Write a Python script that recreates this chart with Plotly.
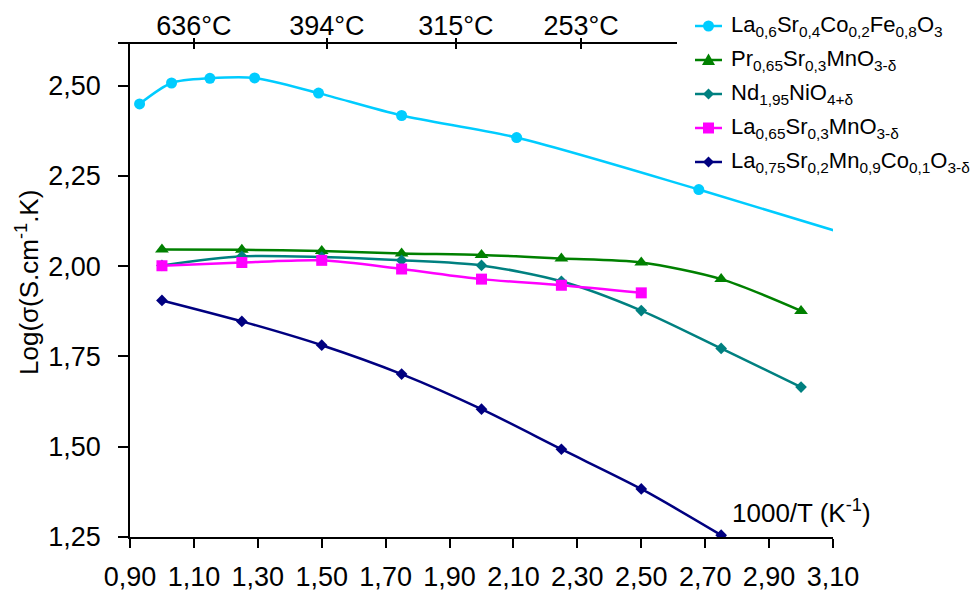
import plotly.graph_objects as go

# ---------------- data ----------------
x_lscf = [0.93, 1.03, 1.15, 1.29, 1.49, 1.75, 2.11, 2.68, 3.36]
y_lscf = [2.449, 2.507, 2.520, 2.521, 2.479, 2.417, 2.356, 2.212, 2.03]

x_std = [1.00, 1.25, 1.50, 1.75, 2.00, 2.25, 2.50, 2.75, 3.00]
y_psm = [2.046, 2.045, 2.042, 2.035, 2.031, 2.021, 2.010, 1.964, 1.876]
y_nno = [2.002, 2.027, 2.025, 2.016, 2.002, 1.958, 1.877, 1.772, 1.665]
x_lsm = [1.00, 1.25, 1.50, 1.75, 2.00, 2.25, 2.50]
y_lsm = [2.001, 2.010, 2.016, 1.992, 1.964, 1.947, 1.926]
y_lsmc = [1.905, 1.847, 1.781, 1.701, 1.604, 1.493, 1.383, 1.255, 1.12]

names = [
    "La<sub>0,6</sub>Sr<sub>0,4</sub>Co<sub>0,2</sub>Fe<sub>0,8</sub>O<sub>3</sub>",
    "Pr<sub>0,65</sub>Sr<sub>0,3</sub>MnO<sub>3-δ</sub>",
    "Nd<sub>1,95</sub>NiO<sub>4+δ</sub>",
    "La<sub>0,65</sub>Sr<sub>0,3</sub>MnO<sub>3-δ</sub>",
    "La<sub>0,75</sub>Sr<sub>0,2</sub>Mn<sub>0,9</sub>Co<sub>0,1</sub>O<sub>3-δ</sub>",
]
colors = ["#00CCFF", "#008000", "#008080", "#FF00FF", "#000080"]
symbols = ["circle", "triangle-up", "diamond", "square", "diamond"]

x_ticks = [0.90, 1.10, 1.30, 1.50, 1.70, 1.90, 2.10, 2.30, 2.50, 2.70, 2.90, 3.10]
y_ticks = [1.25, 1.50, 1.75, 2.00, 2.25, 2.50]
top_tick_vals = [1.10, 1.516, 1.92, 2.312]
top_tick_text = ["636°C", "394°C", "315°C", "253°C"]

# ---------------- layout numbers ----------------
W, H = 974, 591
ml, mr, mt, mb = 118, 141, 44, 54
plot_w = W - ml - mr
plot_h = H - mt - mb
x_range = [0.90, 3.10]
y_range = [1.25, 2.615]
d0 = 12 / plot_w
px_per_unit = (1 - d0) * plot_w / (x_range[1] - x_range[0])
top_end_px = 677 - ml
x2_dom = [0, top_end_px / plot_w]
x2_range = [x_range[0] - 12 / px_per_unit, x_range[0] + (top_end_px - 12) / px_per_unit]

FONT = "Liberation Sans, Arial, sans-serif"


def px_x(px):
    return (px - ml) / plot_w


def px_y(py):
    return (H - mb - py) / plot_h


fig = go.Figure()

series = [
    (x_lscf, y_lscf, 11),
    (x_std, y_psm, 12),
    (x_std, y_nno, 9),
    (x_lsm, y_lsm, 11),
    (x_std, y_lsmc, 9),
]
for i, (xs, ys, sz) in enumerate(series):
    fig.add_trace(go.Scatter(
        x=xs, y=ys, name=names[i], mode="lines+markers",
        line=dict(color=colors[i], width=2.5, shape="spline", smoothing=0.8),
        marker=dict(color=colors[i], symbol=symbols[i], size=sz, line=dict(width=0)),
        xaxis="x", yaxis="y", showlegend=False,
    ))

# invisible traces so that the top temperature axis gets drawn
for ax in ("x2", "x4"):
    fig.add_trace(go.Scatter(
        x=top_tick_vals, y=[None] * len(top_tick_vals), xaxis=ax, yaxis="y",
        mode="markers", showlegend=False, hoverinfo="skip",
    ))

# ---------------- legend (drawn by hand so it does not squeeze the plot) ----------------
leg_x0, leg_x1, leg_text_x = 695, 722, 729
leg_y0, leg_dy = 26, 34
marker_paths = {
    "triangle-up": "M -6.5,-5 L 6.5,-5 L 0,6.5 Z",
    "diamond": "M 0,5.5 L 5.5,0 L 0,-5.5 L -5.5,0 Z",
}
shapes = []
annotations = []
for i, nm in enumerate(names):
    cy = leg_y0 + i * leg_dy
    yp = px_y(cy)
    shapes.append(dict(type="line", xref="paper", yref="paper",
                       x0=px_x(leg_x0), x1=px_x(leg_x1), y0=yp, y1=yp,
                       line=dict(color=colors[i], width=2.5)))
    xc = px_x((leg_x0 + leg_x1) / 2)
    common = dict(xref="paper", yref="paper", xsizemode="pixel", ysizemode="pixel",
                  xanchor=xc, yanchor=yp, fillcolor=colors[i], line=dict(width=0))
    sym = symbols[i]
    if sym == "circle":
        shapes.append(dict(type="circle", x0=-5.5, x1=5.5, y0=-5.5, y1=5.5, **common))
    elif sym == "square":
        shapes.append(dict(type="rect", x0=-5.5, x1=5.5, y0=-5.5, y1=5.5, **common))
    else:
        shapes.append(dict(type="path", path=marker_paths[sym], **common))
    annotations.append(dict(text=nm, xref="paper", yref="paper", x=px_x(leg_text_x), y=yp,
                            xanchor="left", yanchor="middle", showarrow=False,
                            font=dict(family=FONT, size=22, color="black")))

annotations += [
    dict(text="Log(σ(S.cm<sup>-1</sup>.K)", xref="paper", yref="paper",
         x=px_x(27), y=px_y(283), textangle=-90, showarrow=False,
         xanchor="center", yanchor="middle", font=dict(family=FONT, size=26)),
    dict(text="1000/T (K<sup>-1</sup>)", xref="x", yref="y",
         x=3.0, y=1.32, showarrow=False, xanchor="center", yanchor="middle",
         font=dict(family=FONT, size=26)),
]

axis_font = dict(family=FONT, size=27, color="black")

fig.update_layout(
    width=W, height=H,
    margin=dict(l=ml, r=mr, t=mt, b=mb, pad=0),
    paper_bgcolor="white",
    plot_bgcolor="rgba(0,0,0,0)",
    separators=",.",
    font=dict(family=FONT, size=26, color="black"),
    showlegend=False,
    xaxis=dict(
        domain=[d0, 1], range=x_range, tickvals=x_ticks, tickformat=".2f",
        showline=True, linecolor="black", linewidth=1.5,
        ticks="outside", ticklen=9, tickcolor="black", tickwidth=1.5,
        tickfont=axis_font, showgrid=False, zeroline=False,
        anchor="y", ticklabelstandoff=6, automargin=False, tickangle=0,
    ),
    yaxis=dict(
        domain=[0, 1], range=y_range, tickvals=y_ticks, tickformat=".2f",
        showline=True, linecolor="black", linewidth=1.5,
        ticks="outside", ticklen=10, tickcolor="black", tickwidth=1.5,
        tickfont=axis_font, showgrid=False, zeroline=False,
        anchor="x", ticklabelstandoff=12, automargin=False,
    ),
    yaxis3=dict(
        range=y_range, tickvals=y_ticks, overlaying="y", anchor="x", side="left",
        ticks="inside", ticklen=7, tickcolor="black", tickwidth=1.5,
        showticklabels=False, showline=False, showgrid=False, zeroline=False,
        automargin=False,
    ),
    xaxis2=dict(
        domain=x2_dom, range=x2_range, anchor="y", side="top",
        tickvals=top_tick_vals, ticktext=top_tick_text,
        showline=True, linecolor="black", linewidth=1.5,
        ticks="inside", ticklen=5, tickcolor="black", tickwidth=1.5,
        tickfont=axis_font, showgrid=False, zeroline=False, automargin=False,
        tickangle=0, ticklabelstandoff=-4,
    ),
    xaxis4=dict(
        domain=x2_dom, range=x2_range, anchor="y", side="top",
        tickvals=top_tick_vals, showticklabels=False,
        showline=False, ticks="outside", ticklen=5, tickcolor="black", tickwidth=1.5,
        showgrid=False, zeroline=False, automargin=False,
    ),
    shapes=shapes,
    annotations=annotations,
)

fig.write_html("out.html")
